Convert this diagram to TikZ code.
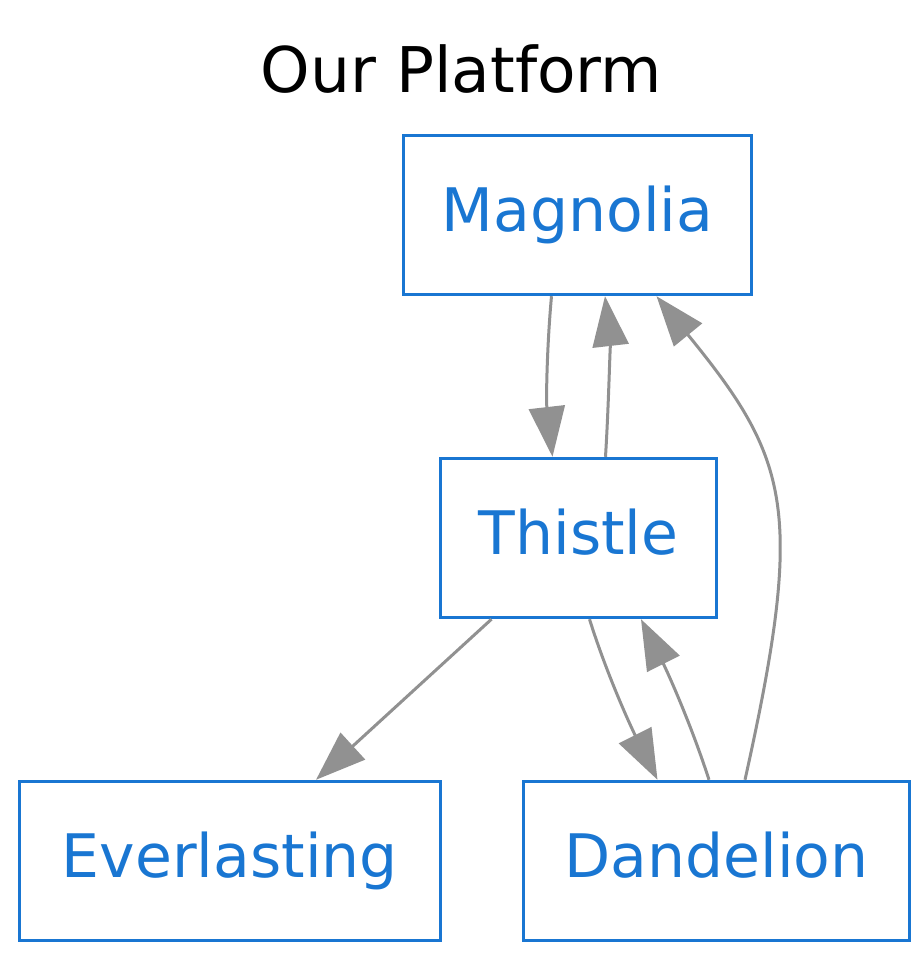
\documentclass[tikz,border=0pt]{standalone}
\usepackage{fontspec}
\setmainfont{DejaVu Sans}
\usepackage{xcolor}
\usepackage{tikz}
\usetikzlibrary{positioning,arrows.meta,calc}
\definecolor{platformblue}{HTML}{1976D2}
\definecolor{platformedge}{HTML}{919191}

\begin{document}
\begin{tikzpicture}[
  x=0.5pt,y=0.5pt,
  font=\fontsize{30}{36}\selectfont,
  box/.style={draw=platformblue,text=platformblue,line width=1.7pt,
              minimum height=79.5pt,inner sep=0pt,
              text height=24.5pt,text depth=7.8pt},
  arr/.style={-{Triangle[length=25pt,width=18pt]},platformedge,line width=1.5pt}
]
\useasboundingbox (0,0) rectangle (924,960);
% title
\node[anchor=base,font=\fontsize{31.5}{38}\selectfont] (title) at (461.5,867) {Our Platform};

% top and middle
\node[box,minimum width=174pt] (magnolia) at (577.5,745) {Magnolia};
\node[box,minimum width=138pt,below=80.3pt of magnolia,xshift=0.5pt] (thistle) {Thistle};

% bottom row
\node[box,minimum width=193pt,below=80.3pt of thistle,xshift=69pt] (dandelion) {Dandelion};
\node[box,minimum width=210.5pt,left=39.8pt of dandelion] (everlasting) {Everlasting};

\draw[arr] ($(magnolia.south)+(-26,0)$) .. controls (547,615) and (546,560)
  .. ($(thistle.north)+(-26,0)$);
\draw[arr] ($(thistle.north)+(27,0)$) .. controls (609,560) and (610,620)
  .. ($(magnolia.south)+(27.5,0)$);
\draw[arr] ($(dandelion.north)+(28.5,0)$) .. controls (805,450) and (790,500)
  .. ($(magnolia.south)+(79,0)$);
\draw[arr] ($(thistle.south)+(-87,0)$) -- ($(everlasting.north)+(86,0)$);
\draw[arr] ($(thistle.south)+(11,0)$) .. controls (607,285) and (631,233)
  .. ($(dandelion.north)+(-59,0)$);
\draw[arr] ($(dandelion.north)+(-7.5,0)$) .. controls (691,236) and (667.5,288)
  .. ($(thistle.south)+(62.5,0)$);
\end{tikzpicture}
\end{document}
